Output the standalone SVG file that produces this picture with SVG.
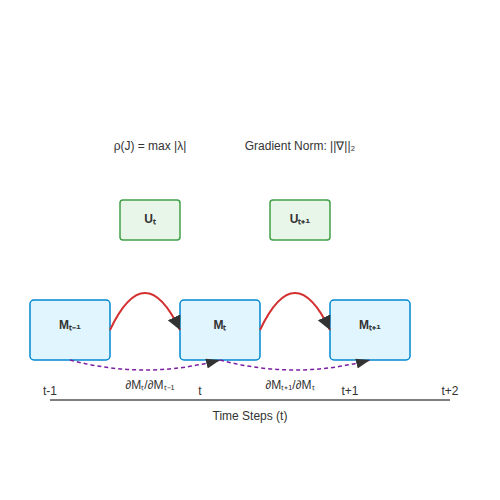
<svg xmlns="http://www.w3.org/2000/svg" width="500" height="500" viewBox="0 0 500 500">
<style>
text{font-family:"Liberation Sans",Arial,sans-serif;fill:#333;}
.lbl{font-size:12px;text-anchor:middle;}
.nl{font-size:12px;font-weight:bold;text-anchor:middle;dominant-baseline:middle;}
.mbox{fill:#e1f5fe;stroke:#0288d1;stroke-width:1.5;}
.ubox{fill:#e8f5e9;stroke:#43a047;stroke-width:1.5;}
.red{fill:none;stroke:#d32f2f;stroke-width:2;}
.pur{fill:none;stroke:#7b1fa2;stroke-width:1.5;stroke-dasharray:4,3;}
</style>
<defs>
<marker id="ah" viewBox="0 0 14 14" refX="14" refY="7" markerWidth="14" markerHeight="14" markerUnits="userSpaceOnUse" orient="auto">
<path d="M0,0 L14,7 L0,14 Z" fill="#333"/>
</marker>
<marker id="ahp" viewBox="0 0 14 10" refX="14" refY="5" markerWidth="14" markerHeight="10" markerUnits="userSpaceOnUse" orient="auto">
<path d="M0,0 L14,5 L0,10 Z" fill="#333"/>
</marker>
</defs>
<text class="lbl" x="150" y="150">ρ(J) = max |λ|</text>
<text class="lbl" x="300" y="150">Gradient Norm: ||∇||₂</text>
<g id="u1"><rect class="ubox" x="120" y="200" width="60" height="40" rx="3"/><text class="nl" x="150" y="220">Uₜ</text></g>
<g id="u2"><rect class="ubox" x="270" y="200" width="60" height="40" rx="3"/><text class="nl" x="300" y="220">Uₜ₊₁</text></g>
<g id="m0"><rect class="mbox" x="30" y="300" width="80" height="60" rx="4"/><text class="nl" x="70" y="326">Mₜ₋₁</text></g>
<g id="m1"><rect class="mbox" x="180" y="300" width="80" height="60" rx="4"/><text class="nl" x="220" y="326">Mₜ</text></g>
<g id="m2"><rect class="mbox" x="330" y="300" width="80" height="60" rx="4"/><text class="nl" x="370" y="326">Mₜ₊₁</text></g>
<g id="connectors">
<path class="red" d="M110,330 Q145,256 180,330" marker-end="url(#ah)"/>
<path class="red" d="M260,330 Q295,256 330,330" marker-end="url(#ah)"/>
<path class="pur" d="M70,360 Q145,380 220,360" marker-end="url(#ahp)"/>
<path class="pur" d="M220,360 Q295,380 370,360" marker-end="url(#ahp)"/>
</g>
<text class="lbl" x="150" y="389">∂Mₜ/∂Mₜ₋₁</text>
<text class="lbl" x="290" y="389">∂Mₜ₊₁/∂Mₜ</text>
<line x1="50" y1="400" x2="450" y2="400" stroke="#555" stroke-width="1.5"/>
<text class="lbl" x="50" y="395">t-1</text>
<text class="lbl" x="200" y="395">t</text>
<text class="lbl" x="350" y="395">t+1</text>
<text class="lbl" x="450" y="395">t+2</text>
<text class="lbl" x="250" y="420">Time Steps (t)</text>
</svg>
